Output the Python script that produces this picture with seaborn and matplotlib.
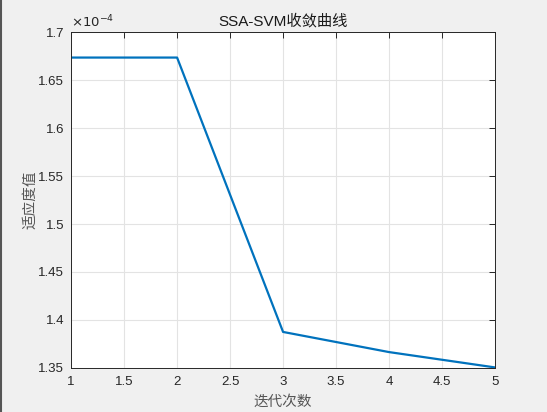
import matplotlib
matplotlib.use("Agg")
import matplotlib.pyplot as plt
import seaborn as sns
import pandas as pd
from matplotlib.ticker import FuncFormatter
from matplotlib.lines import Line2D

# data (fitness in units of 1e-4)
iterations = [1, 2, 3, 4, 5]
fitness = [1.6735e-4, 1.6735e-4, 1.3875e-4, 1.3665e-4, 1.3505e-4]
x_ticks = [1, 1.5, 2, 2.5, 3, 3.5, 4, 4.5, 5]
y_ticks = [1.35e-4, 1.4e-4, 1.45e-4, 1.5e-4, 1.55e-4, 1.6e-4, 1.65e-4, 1.7e-4]

sns.set_theme(style="white")
plt.rcParams['font.family'] = ['Liberation Sans', 'Noto Sans CJK SC', 'DejaVu Sans']
plt.rcParams['axes.unicode_minus'] = False

df = pd.DataFrame({"iter": iterations, "fit": fitness})

fig = plt.figure(figsize=(5.47, 4.12), dpi=100, facecolor="#f0f0f0")
ax = fig.add_axes([0.13, 0.107, 0.775, 0.815])
ax.set_facecolor("white")

sns.lineplot(data=df, x="iter", y="fit", ax=ax, color="#0072BD", linewidth=1.6)

ax.set_xlim(1, 5)
ax.set_ylim(1.35e-4, 1.7e-4)
ax.set_xticks(x_ticks)
ax.set_yticks(y_ticks)
ax.xaxis.set_major_formatter(FuncFormatter(lambda v, p: f"{v:g}"))
ax.yaxis.set_major_formatter(FuncFormatter(lambda v, p: f"{round(v / 1e-4, 4):g}"))

ax.grid(True, color="#e3e3e3", linewidth=0.8)
ax.tick_params(axis="both", which="both", direction="in", length=4, width=0.7,
               colors="#262626", labelsize=9.5, top=True, right=True,
               labelcolor="#262626")
ax.tick_params(axis="x", pad=6)
ax.tick_params(axis="y", pad=5)
for s in ax.spines.values():
    s.set_visible(True)
    s.set_color("#262626")
    s.set_linewidth(0.7)

ax.text(0.0, 1.004, r"$\times$10$^{-4}$", transform=ax.transAxes, fontsize=9.5,
        color="#262626", ha="left", va="bottom", family=['DejaVu Sans'])

ax.set_title("SSA-SVM收敛曲线", fontsize=11, color="#1a1a1a", pad=5)
ax.set_xlabel("迭代次数", fontsize=10.5, color="#555555", labelpad=5)
ax.set_ylabel("适应度值", fontsize=10.5, color="#555555", labelpad=1)

fig.add_artist(Line2D([0.001, 0.001], [0, 1], transform=fig.transFigure,
                      color="#555555", linewidth=1.5))

fig.savefig("out.png", dpi=100, facecolor=fig.get_facecolor())
